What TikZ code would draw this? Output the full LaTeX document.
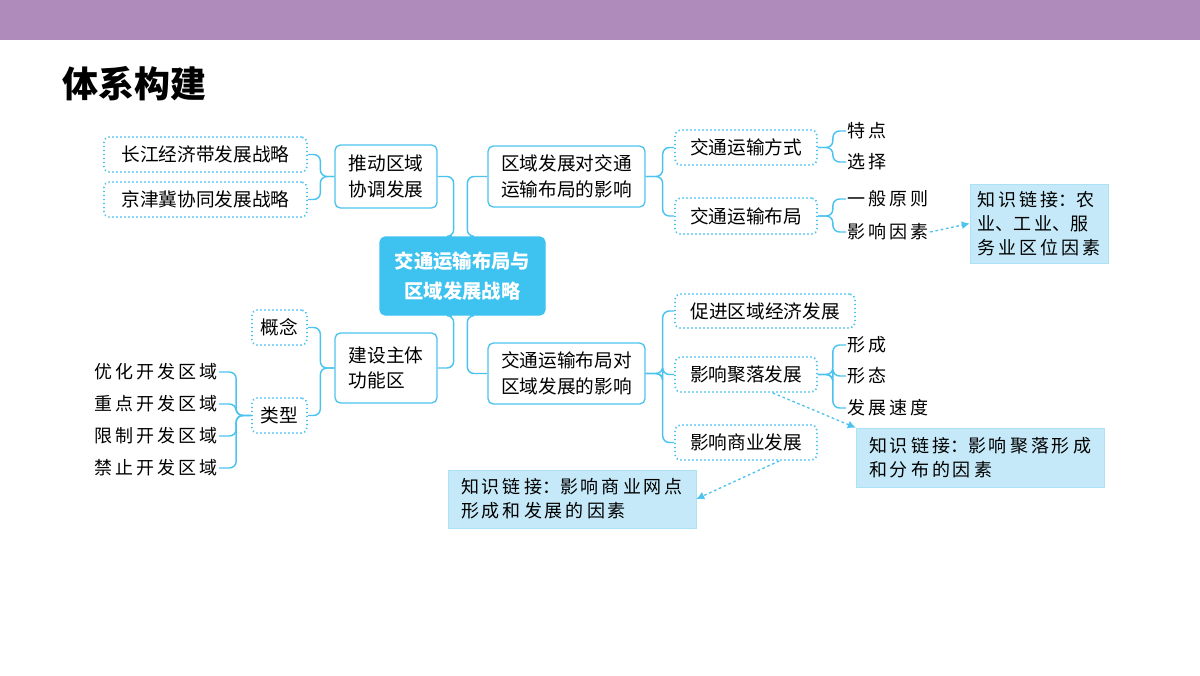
\documentclass[tikz,border=0pt]{standalone}
\usepackage{fontspec}
\setmainfont{Noto Sans CJK SC}
\usetikzlibrary{arrows.meta}
\definecolor{cy}{HTML}{4CC3EE}
\definecolor{cfill}{HTML}{3EC2EF}
\definecolor{lfill}{HTML}{C5E9F8}
\definecolor{bar}{HTML}{AE8BBB}
\tikzset{
 bx/.style={draw=cy,line width=1pt,rounded corners=4pt,inner sep=2pt,align=left,font=\fontsize{14}{19}\selectfont},
 dbx/.style={bx,dotted,line width=1.3pt},
 lbl/.style={inner sep=1pt,font=\fontsize{13.5}{16}\selectfont},
 lnk/.style={fill=lfill,draw=lfill!80!cy,inner sep=5pt,align=left,font=\fontsize{13.5}{18}\selectfont},
 conn/.style={draw=cy,line width=1.1pt,rounded corners=5pt},
 darr/.style={draw=cy,line width=1pt,dashed,dash pattern=on 2pt off 2pt,-{Latex[length=6pt,width=6pt]}},
 sz/.style 2 args={minimum width=#1*0.75pt,minimum height=#2*0.75pt},
}
\begin{document}
\begin{tikzpicture}[x=0.75pt,y=-0.75pt]
\useasboundingbox (0,0) rectangle (1200,675);
\fill[bar] (0,0) rectangle (1200,40);
\node[anchor=west,font=\fontsize{27}{30}\selectfont\bfseries] (title) at (58,84) {体系构建};
\node[bx,fill=cfill,draw=cfill,text=white,align=center,font=\fontsize{14.5}{22}\selectfont\bfseries,sz={165}{78}] (c) at (462.5,276) {交通运输布局与\\区域发展战略};
\node[bx,sz={102}{63}] (td) at (386,176.5) {推动区域\\协调发展};
\node[dbx,sz={203}{35}] (cj) at (205.5,154.5) {长江经济带发展战略};
\node[dbx,sz={203}{35}] (jj) at (205.5,199.5) {京津冀协同发展战略};
\node[bx,sz={157}{61}] (qy) at (566.5,176.5) {区域发展对交通\\运输布局的影响};
\node[dbx,sz={142}{35}] (fs) at (746,147.5) {交通运输方式};
\node[dbx,sz={142}{36}] (bj) at (746,216) {交通运输布局};
\node[lbl,anchor=west] (td1) at (846,131) {特\,点};
\node[lbl,anchor=west] (xz) at (846,162) {选\,择};
\node[lbl,anchor=west] (yb) at (846,199) {一\,般\,原\,则};
\node[lbl,anchor=west] (yx) at (846,232) {影\,响\,因\,素};
\node[lnk,sz={138}{79}] (l1) at (1039,223.5) {知\,识\,链\,接：农\\业、工\,业、服\\务\,业\,区\,位\,因\,素};
\node[bx,sz={157}{61}] (jb) at (566.5,373.5) {交通运输布局对\\区域发展的影响};
\node[dbx,sz={180}{34}] (cjq) at (765,311) {促进区域经济发展};
\node[dbx,sz={142}{35}] (jl) at (746,374.5) {影响聚落发展};
\node[dbx,sz={142}{35}] (sy) at (746,442.5) {影响商业发展};
\node[lbl,anchor=west] (xc) at (846,345) {形\,成};
\node[lbl,anchor=west] (xt) at (846,376) {形\,态};
\node[lbl,anchor=west] (fz) at (846,408) {发\,展\,速\,度};
\node[lnk,sz={248}{59}] (l2) at (980,457.5) {知\,识\,链\,接：影\,响\,聚\,落\,形\,成\\和\,分\,布\,的\,因\,素};
\node[lnk,sz={248}{58}] (l3) at (572,499) {知\,识\,链\,接：影\,响\,商\,业\,网\,点\\形\,成\,和\,发\,展\,的\,因\,素};
\node[bx,sz={102}{70}] (js) at (386,368) {建设主体\\功能区};
\node[dbx,sz={55}{35}] (gn) at (279.5,327.5) {概念};
\node[dbx,sz={55}{35}] (lx) at (279.5,415.5) {类型};
\node[lbl,anchor=east] (a1) at (219,372) {优\,化\,开\,发\,区\,域};
\node[lbl,anchor=east] (a2) at (219,404) {重\,点\,开\,发\,区\,域};
\node[lbl,anchor=east] (a3) at (219,436) {限\,制\,开\,发\,区\,域};
\node[lbl,anchor=east] (a4) at (219,468) {禁\,止\,开\,发\,区\,域};
% connectors
\draw[conn] (td.east) -- ++(16,0) |- ([xshift=-8]c.north) ;
\draw[conn] (js.east) -- ++(16,0) |- ([xshift=-8]c.south);
\draw[conn] (qy.west) -- ++(-20,0) |- ([xshift=6]c.north);
\draw[conn] (jb.west) -- ++(-20,0) |- ([xshift=6]c.south);
\foreach \t in {cj,jj} \draw[conn] (td.west) -- ++(-14,0) |- (\t.east);
\foreach \t in {gn,lx} \draw[conn] (js.west) -- ++(-14,0) |- (\t.east);
\foreach \t in {a1,a2,a3,a4} \draw[conn] (lx.west) -- ++(-15,0) |- (\t.east);
\foreach \t in {fs,bj} \draw[conn] (qy.east) -- ++(17,0) |- (\t.west);
\foreach \t in {cjq,jl,sy} \draw[conn] (jb.east) -- ++(17,0) |- (\t.west);
\foreach \t in {td1,xz} \draw[conn] (fs.east) -- ++(15,0) |- (\t.west);
\foreach \t in {yb,yx} \draw[conn] (bj.east) -- ++(15,0) |- (\t.west);
\foreach \t in {xc,xt,fz} \draw[conn] (jl.east) -- ++(15,0) |- (\t.west);
\draw[darr] (yx.east) -- (l1.west);
\draw[darr] ([xshift=20]jl.south) -- (l2.north west);
\draw[darr] ([xshift=25]sy.south) -- (l3.east);
\end{tikzpicture}
\end{document}
